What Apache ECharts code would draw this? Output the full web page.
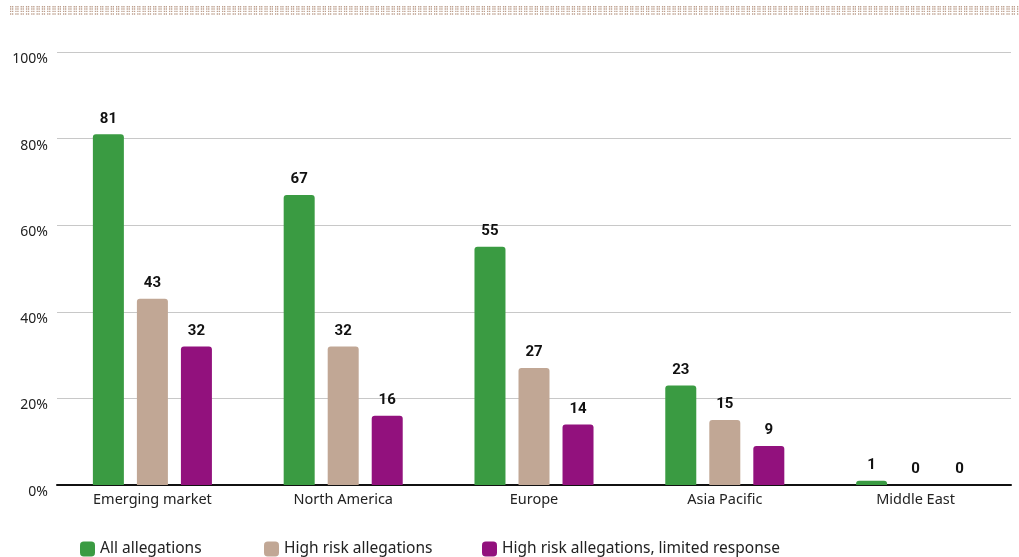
<!DOCTYPE html>
<html>
<head>
<meta charset="utf-8">
<script src="https://cdn.jsdelivr.net/npm/echarts@6/dist/echarts.min.js"></script>
<style>
  html, body { margin: 0; padding: 0; background: #fff; }
  #main { width: 1019px; height: 557px; }
</style>
</head>
<body>
<div id="main"></div>
<script>
const categories = ['Emerging market', 'North America', 'Europe', 'Asia Pacific', 'Middle East'];
const seriesNames = ['All allegations', 'High risk allegations', 'High risk allegations, limited response'];
const allAllegations = [81, 67, 55, 23, 1];
const highRisk = [43, 32, 27, 15, 0];
const highRiskLimited = [32, 16, 14, 9, 0];
const yTicks = [0, 20, 40, 60, 80, 100];

const colors = ['#3a9b42', '#c1a795', '#92117d'];
const font = '"Noto Sans", Roboto, sans-serif';
const boldFont = 'Roboto, "Liberation Sans", sans-serif';

const chart = echarts.init(document.getElementById('main'));

// dotted band along the top
const dots = [6.7, 9, 11.4, 14].map(function (y) {
    return {
        type: 'line',
        shape: {x1: 10, y1: y, x2: 1019, y2: y},
        style: {stroke: '#bd9f8d', lineWidth: 1.4, lineDash: [1.3, 0.7, 1.3, 2]},
        silent: true
    };
});

function makeSeries(name, data, color) {
    return {
        name: name,
        type: 'bar',
        data: data,
        barWidth: 31,
        barGap: '42%',
        itemStyle: {color: color, borderRadius: [3, 3, 0, 0]},
        label: {
            show: true,
            position: 'top',
            distance: 8,
            color: '#111',
            fontSize: 15,
            fontWeight: 'bold',
            fontFamily: boldFont
        }
    };
}

function legendFor(name, left) {
    return {
        data: [name],
        left: left,
        top: 536,
        icon: 'roundRect',
        itemWidth: 15,
        itemHeight: 15,
        itemGap: 0,
        textStyle: {color: '#222', fontSize: 15.5, fontFamily: font}
    };
}

const option = {
    animation: false,
    graphic: dots,
    legend: [
        legendFor(seriesNames[0], 75),
        legendFor(seriesNames[1], 259),
        legendFor(seriesNames[2], 477)
    ],
    grid: {left: 57, right: 8, top: 52, bottom: 72},
    xAxis: {
        type: 'category',
        data: categories,
        axisTick: {show: false},
        axisLine: {lineStyle: {color: '#111', width: 2}},
        axisLabel: {color: '#222', fontSize: 14.5, fontFamily: font, margin: 7}
    },
    yAxis: {
        type: 'value',
        min: yTicks[0],
        max: yTicks[yTicks.length - 1],
        interval: 20,
        axisLine: {show: false},
        axisTick: {show: false},
        axisLabel: {
            color: '#222',
            fontSize: 14,
            fontFamily: font,
            margin: 9,
            verticalAlign: 'top',
            lineHeight: 14,
            formatter: '{value}%'
        },
        splitLine: {lineStyle: {color: '#c8c8c8', width: 1}}
    },
    series: [
        makeSeries(seriesNames[0], allAllegations, colors[0]),
        makeSeries(seriesNames[1], highRisk, colors[1]),
        makeSeries(seriesNames[2], highRiskLimited, colors[2])
    ]
};

chart.setOption(option);
</script>
</body>
</html>
